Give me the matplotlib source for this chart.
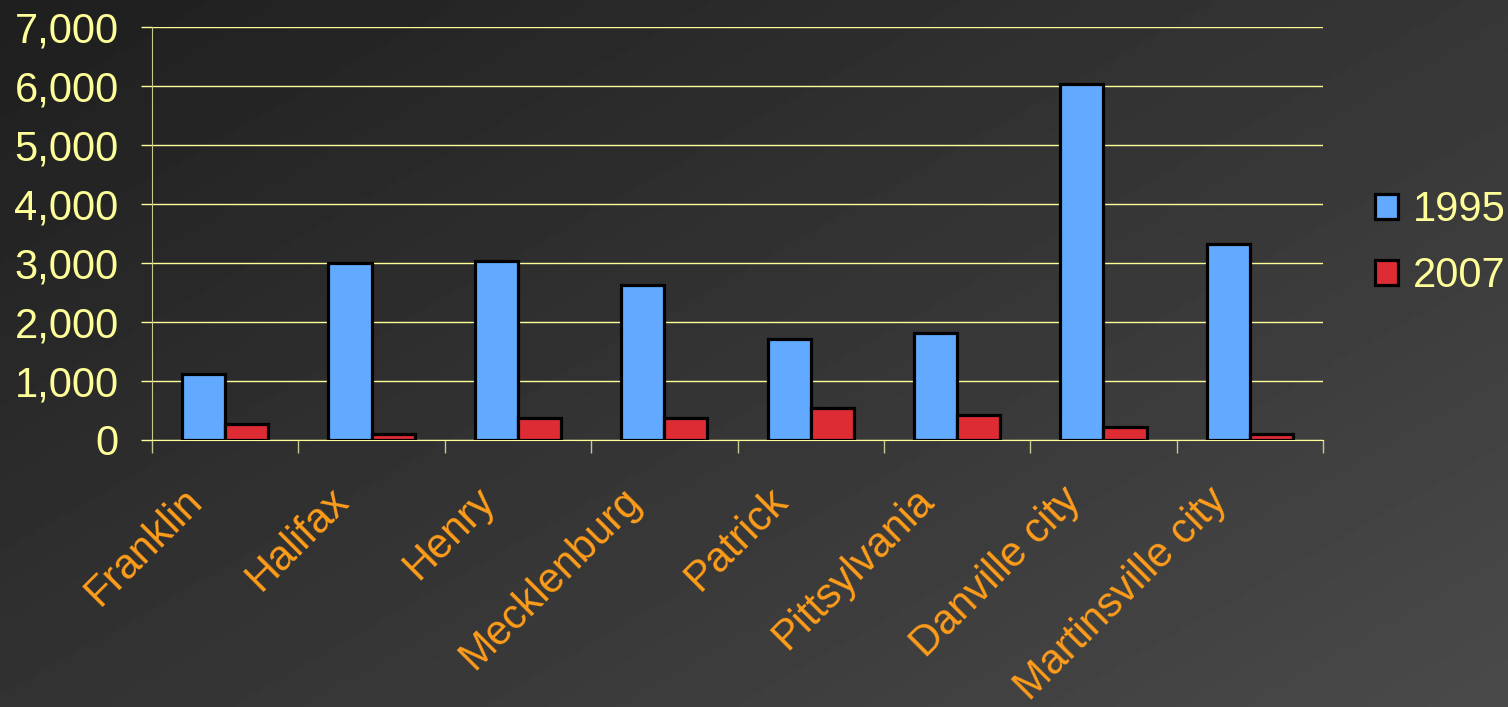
import numpy as np
import matplotlib
matplotlib.use("Agg")
from matplotlib import pyplot as plt
from matplotlib import transforms
from matplotlib.ticker import FuncFormatter, MultipleLocator
from matplotlib.patches import Patch

categories = ["Franklin", "Halifax", "Henry", "Mecklenburg", "Patrick",
              "Pittsylvania", "Danville city", "Martinsville city"]
values_1995 = [1120, 3000, 3040, 2620, 1710, 1820, 6040, 3320]
values_2007 = [270, 110, 370, 370, 540, 430, 225, 110]
series_names = ["1995", "2007"]

blue = "#62aaff"
red = "#dd2c34"
pale = "#ffff99"
orange = "#ff9d1a"

plt.rcParams['font.family'] = ['Liberation Sans', 'DejaVu Sans']

fig = plt.figure(figsize=(15.08, 7.07), dpi=100)

# gradient background
bg = fig.add_axes([0, 0, 1, 1])
gx, gy = np.meshgrid(np.linspace(0, 1, 300), np.linspace(0, 1, 150))
grad = 0.55 * gx + 0.45 * gy
grad = grad / grad.max()
bg.imshow(0.12 + 0.17 * grad, cmap="gray", vmin=0, vmax=1, aspect="auto",
          extent=[0, 1, 0, 1], origin="upper")
bg.axis("off")

ax = fig.add_axes([152 / 1508, 1 - 440 / 707, (1323 - 152) / 1508, (440 - 27) / 707])
ax.patch.set_alpha(0)

x = np.arange(len(categories))
w = 0.295
ax.bar(x - w / 2, values_1995, w, color=blue, edgecolor="black", linewidth=2.3, zorder=3)
ax.bar(x + w / 2, values_2007, w, color=red, edgecolor="black", linewidth=2.3, zorder=3)

ax.set_xlim(-0.5, len(categories) - 0.5)
ax.set_ylim(0, 7000)
ax.yaxis.set_major_locator(MultipleLocator(1000))
ax.yaxis.set_major_formatter(FuncFormatter(lambda v, p: f"{int(v):,}"))
ax.grid(axis="y", color=pale, linewidth=1, zorder=0)

for s in ["top", "right"]:
    ax.spines[s].set_visible(False)
ax.spines["left"].set_color("#c8c890")
ax.spines["bottom"].set_color(pale)

ax.tick_params(axis="y", colors=pale, labelsize=30, length=8, width=1, pad=16)

ax.set_xticks(x)
ax.set_xticklabels(categories, rotation=45, ha="right", va="top",
                   color=orange, fontsize=30)
ax.tick_params(axis="x", which="major", length=0, pad=29)
shift = transforms.ScaledTranslation(-15 / 100, 0, fig.dpi_scale_trans)
for lab in ax.get_xticklabels():
    lab.set_transform(lab.get_transform() + shift)
ax.set_xticks(np.arange(-0.5, len(categories)), minor=True)
ax.tick_params(axis="x", which="minor", length=9, width=1, color="#c8c890")

handles = [Patch(facecolor=blue, edgecolor="black", linewidth=2.3),
           Patch(facecolor=red, edgecolor="black", linewidth=2.3)]
leg = fig.legend(handles, series_names, loc="center left",
                 bbox_to_anchor=(1375 / 1508, 1 - 243 / 707), frameon=False,
                 fontsize=30, handlelength=0.55, handleheight=0.55,
                 handletextpad=0.35, labelspacing=0.62,
                 borderaxespad=0, borderpad=0)
for t in leg.get_texts():
    t.set_color(pale)

fig.savefig("out.png", dpi=100)
